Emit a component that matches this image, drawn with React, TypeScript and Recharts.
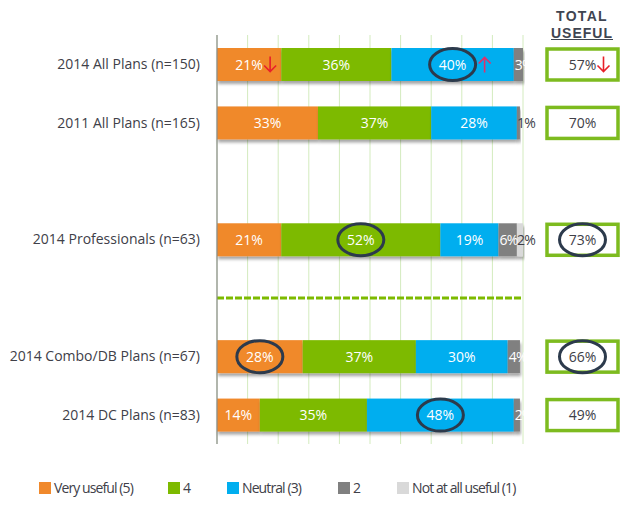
import React from 'react';
import { BarChart, Bar, XAxis, YAxis, CartesianGrid, LabelList, ReferenceLine } from 'recharts';

const rows = [
  '2014 All Plans (n=150)',
  '2011 All Plans (n=165)',
  'gap1',
  '2014 Professionals (n=63)',
  'gap2',
  '2014 Combo/DB Plans (n=67)',
  '2014 DC Plans (n=83)',
];
const veryUseful = [21, 33, null, 21, null, 28, 14];
const four = [36, 37, null, 52, null, 37, 35];
const neutral = [40, 28, null, 19, null, 30, 48];
const two = [3, 1, null, 6, null, 4, 2];
const notAtAll = [0, 0, null, 2, null, 0, 0];
const totalUseful = [57, 70, null, 73, null, 66, 49];

// annotations: which segment is circled, and red change arrows
const circled = ['neutral', null, null, 'four', null, 'veryUseful', 'neutral'];
const totalCircled = [false, false, false, true, false, true, false];
const arrowVeryUseful = ['down', null, null, null, null, null, null];
const arrowNeutral = ['up', null, null, null, null, null, null];
const arrowTotal = ['down', null, null, null, null, null, null];

const xTicks = [0, 10, 20, 30, 40, 50, 60, 70, 80, 90, 100];

const series = [
  { key: 'veryUseful', name: 'Very useful (5)', color: '#F0892C' },
  { key: 'four', name: '4', color: '#7DBA00' },
  { key: 'neutral', name: 'Neutral (3)', color: '#00AEEF' },
  { key: 'two', name: '2', color: '#808080' },
  { key: 'notAtAll', name: 'Not at all useful (1)', color: '#D9D9D9' },
];

// legend item left offsets (px inside the legend row)
const legendX = [0, 129, 188, 299, 358];

const arrowsBySeries: Record<string, (string | null)[]> = {
  veryUseful: arrowVeryUseful,
  neutral: arrowNeutral,
};

const data = rows.map((name, i) => ({
  name,
  veryUseful: veryUseful[i],
  four: four[i],
  neutral: neutral[i],
  two: two[i],
  notAtAll: notAtAll[i],
  total: totalUseful[i],
}));

const FONT = '"Open Sans", sans-serif';
const TEXT = '#404048';
const RING = '#2C3A4C';
const RED = '#E8202A';
const BOX_GREEN = '#7DBB1F';
const BOX_X = 539;

function Arrow({ x, cy, dir, color }: { x: number; cy: number; dir: string; color: string }) {
  const s = dir === 'down' ? 1 : -1;
  return (
    <path
      d={`M${x},${cy - 8 * s} L${x},${cy + 7 * s} M${x - 6},${cy + 1 * s} L${x},${cy + 7 * s} L${x + 6},${cy + 1 * s}`}
      stroke={color}
      strokeWidth={1.6}
      fill="none"
    />
  );
}

const segmentLabel = (key: string) => (props: any) => {
  const { x, y, width, height, value, index } = props;
  if (value == null || value === 0) return null;
  const cy = y + height / 2;
  const dark = key === 'notAtAll' || value <= 1;
  const small = width < 20;
  const tx = dark ? x : small ? x + 1 : x + width / 2;
  const isCircled = circled[index] === key;
  const arrow = arrowsBySeries[key]?.[index];
  return (
    <g>
      <text
        x={tx}
        y={cy + 5}
        textAnchor={small ? 'start' : 'middle'}
        fill={dark ? TEXT : '#fff'}
        fontSize={14}
        fontFamily={FONT}
        letterSpacing={small ? -0.7 : 0}
      >
        {`${value}%`}
      </text>
      {isCircled && <ellipse cx={tx} cy={cy} rx={23} ry={16} fill="none" stroke={RING} strokeWidth={3} />}
      {arrow && <Arrow x={tx + (isCircled ? 32 : 21)} cy={cy} dir={arrow} color={arrow === 'up' ? '#E2306A' : RED} />}
    </g>
  );
};

const totalBox = (props: any) => {
  const { y, height, value, index } = props;
  if (value == null) return null;
  const cy = y + height / 2;
  const cx = BOX_X + 35.5;
  return (
    <g>
      <rect x={BOX_X} y={cy - 15.5} width={71} height={31} fill="#fff" stroke={BOX_GREEN} strokeWidth={3.5} />
      <text x={cx} y={cy + 5} textAnchor="middle" fill={TEXT} fontSize={14} fontFamily={FONT}>
        {`${value}%`}
      </text>
      {totalCircled[index] && <ellipse cx={cx} cy={cy} rx={23} ry={16} fill="none" stroke={RING} strokeWidth={3} />}
      {arrowTotal[index] && <Arrow x={cx + 21} cy={cy} dir={arrowTotal[index] as string} color={RED} />}
    </g>
  );
};

const shadowRect = (p: any) => {
  if (!p.width) return <g />;
  return <rect x={p.x} y={p.y} width={p.width} height={p.height} fill={p.fill} filter="url(#barShadow)" />;
};

export default function App() {
  return (
    <div style={{ position: 'relative', width: 624, height: 500, fontFamily: FONT }}>
      <div
        style={{
          position: 'absolute',
          left: 534,
          top: 0,
          width: 80,
          textAlign: 'center',
          fontFamily: '"Liberation Sans", Arial, sans-serif',
          fontWeight: 'bold',
          fontSize: 14,
          color: '#3F4551',
          lineHeight: '17px',
        }}
      >
        <div style={{ letterSpacing: 1.3 }}>TOTAL</div>
        <div style={{ letterSpacing: 1, textDecoration: 'underline' }}>USEFUL</div>
      </div>
      <BarChart
        width={624}
        height={500}
        data={data}
        layout="vertical"
        margin={{ top: 27, right: 109, bottom: 64, left: 0 }}
      >
        <defs>
          <filter id="barShadow" x="-10%" y="-20%" width="130%" height="160%">
            <feDropShadow dx={1} dy={3} stdDeviation={1.5} floodColor="#000" floodOpacity={0.35} />
          </filter>
        </defs>
        <CartesianGrid horizontal={false} stroke="#D3EBBE" strokeWidth={1} />
        <XAxis
          type="number"
          domain={[0, 100]}
          ticks={xTicks}
          height={0}
          tick={() => <g />}
          axisLine={false}
          tickLine={false}
        />
        <YAxis
          type="category"
          dataKey="name"
          width={209}
          tickLine={false}
          tickSize={0}
          tickMargin={17}
          axisLine={{ stroke: '#8C8C8C', strokeWidth: 1.2 }}
          tickFormatter={(v: string) => (v.startsWith('gap') ? '' : v)}
          tick={{ fill: TEXT, fontSize: 14, fontFamily: FONT }}
        />
        <ReferenceLine y="gap2" stroke="#7DBA00" strokeWidth={3} strokeDasharray="7 2" />
        {series.map((s) => (
          <Bar
            key={s.key}
            dataKey={s.key}
            name={s.name}
            stackId="a"
            fill={s.color}
            barSize={33}
            shape={shadowRect}
            isAnimationActive={false}
          >
            <LabelList dataKey={s.key} content={segmentLabel(s.key)} />
            {s.key === 'veryUseful' && <LabelList dataKey="total" content={totalBox} />}
          </Bar>
        ))}
      </BarChart>
      <div
        style={{
          position: 'absolute',
          left: 31,
          top: 470,
          width: 520,
          height: 20,
          fontSize: 14,
          letterSpacing: -0.9,
          color: TEXT,
        }}
      >
        {series.map((s, i) => (
          <div
            key={s.key}
            style={{ position: 'absolute', left: legendX[i], top: 0, display: 'flex', alignItems: 'center', whiteSpace: 'nowrap' }}
          >
            <span style={{ display: 'inline-block', width: 12, height: 12, background: s.color, marginRight: 3 }} />
            <span>{s.name}</span>
          </div>
        ))}
      </div>
    </div>
  );
}
